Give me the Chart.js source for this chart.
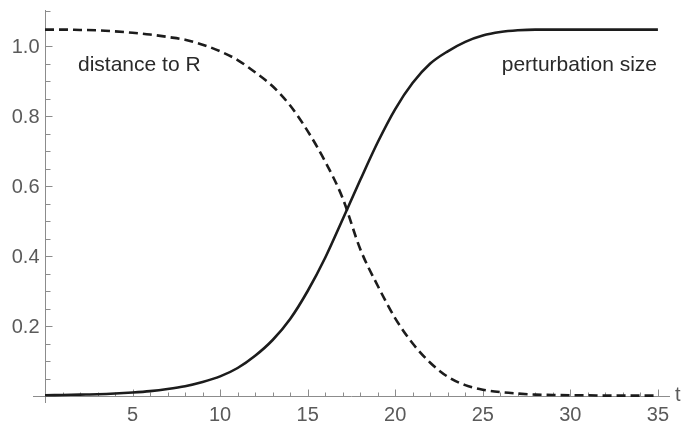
<!DOCTYPE html>
<html>
<head>
<meta charset="utf-8">
<title>Perturbation size and distance to R</title>
<script src="https://cdn.jsdelivr.net/npm/chart.js@4.4.1/dist/chart.umd.min.js"></script>
<style>
  html, body { margin: 0; padding: 0; background: #fff; }
  #wrap { width: 686px; height: 424px; }
</style>
</head>
<body>
<div id="wrap"><canvas id="curves" width="686" height="424"></canvas></div>
<script>
// sampled at integer t
const tValues = [0, 1, 2, 3, 4, 5, 6, 7, 8, 9, 10, 11, 12, 13, 14, 15, 16, 17,
  18, 19, 20, 21, 22, 23, 24, 25, 26, 27, 28, 29, 30, 31, 32, 33, 34, 35];

const perturbationSize = [0.002, 0.003, 0.004, 0.005, 0.007, 0.010, 0.014, 0.020,
  0.028, 0.040, 0.056, 0.080, 0.115, 0.160, 0.220, 0.300, 0.395, 0.505,
  0.617, 0.725, 0.820, 0.895, 0.950, 0.985, 1.012, 1.030, 1.040, 1.045,
  1.047, 1.047, 1.047, 1.047, 1.047, 1.047, 1.047, 1.047];

const distanceToR = [1.047, 1.047, 1.046, 1.045, 1.042, 1.038, 1.033, 1.026,
  1.018, 1.004, 0.985, 0.960, 0.925, 0.885, 0.830, 0.757, 0.670, 0.565,
  0.420, 0.315, 0.222, 0.150, 0.095, 0.055, 0.031, 0.018, 0.011, 0.007,
  0.004, 0.003, 0.002, 0.002, 0.001, 0.001, 0.001, 0.001];

const xMajorTicks = [5, 10, 15, 20, 25, 30, 35];
const xTickLabels = ['5', '10', '15', '20', '25', '30', '35'];
const yMajorTicks = [0.2, 0.4, 0.6, 0.8, 1.0];
const yTickLabels = ['0.2', '0.4', '0.6', '0.8', '1.0'];

const AXIS_COLOR = '#8c8c8c';
const LABEL_COLOR = '#5a5a5a';
const CURVE_COLOR = '#1c1c1c';
const FONT = '"Liberation Sans", Arial, Helvetica, sans-serif';

const toPoints = (ys) => ys.map((y, i) => ({ x: tValues[i], y: y }));

// Mathematica-style axes crossing at the origin, ticks pointing inward
const originAxes = {
  id: 'originAxes',
  beforeDatasetsDraw(chart) {
    const { ctx, chartArea, scales: { x, y } } = chart;
    const x0 = Math.round(x.getPixelForValue(0)) + 0.5;
    const y0 = Math.round(y.getPixelForValue(0)) + 0.5;

    ctx.save();
    ctx.strokeStyle = AXIS_COLOR;
    ctx.lineWidth = 1;

    ctx.beginPath();
    ctx.moveTo(chartArea.left, y0);
    ctx.lineTo(chartArea.right, y0);
    ctx.moveTo(x0, chartArea.bottom);
    ctx.lineTo(x0, chartArea.top);

    // x ticks: minor every 1, major every 5
    for (let t = 1; t <= 35; t++) {
      const px = Math.round(x.getPixelForValue(t)) + 0.5;
      const len = t % 5 === 0 ? 7 : 4;
      ctx.moveTo(px, y0);
      ctx.lineTo(px, y0 - len);
    }
    // y ticks: minor every 0.05, major every 0.2
    for (let k = 1; k <= 22; k++) {
      const py = Math.round(y.getPixelForValue(k * 0.05)) + 0.5;
      const len = k % 4 === 0 ? 7 : 5;
      ctx.moveTo(x0, py);
      ctx.lineTo(x0 + len, py);
    }
    ctx.stroke();

    ctx.fillStyle = LABEL_COLOR;
    ctx.font = '20px ' + FONT;
    ctx.textAlign = 'center';
    ctx.textBaseline = 'middle';
    xMajorTicks.forEach((t, i) => {
      ctx.fillText(xTickLabels[i], x.getPixelForValue(t), y0 + 19);
    });
    ctx.textAlign = 'right';
    yMajorTicks.forEach((v, i) => {
      ctx.fillText(yTickLabels[i], x0 - 6, y.getPixelForValue(v) + 1);
    });

    ctx.textAlign = 'left';
    ctx.fillText('t', chartArea.right + 5, y0 - 1);
    ctx.restore();
  },
  afterDatasetsDraw(chart) {
    const { ctx, chartArea } = chart;
    ctx.save();
    ctx.fillStyle = '#2a2a2a';
    ctx.font = '21px ' + FONT;
    ctx.textBaseline = 'alphabetic';
    ctx.textAlign = 'left';
    ctx.fillText('distance to R', 78, 71);
    ctx.textAlign = 'right';
    ctx.fillText('perturbation size', 657, 71);
    ctx.restore();
  }
};

new Chart(document.getElementById('curves'), {
  type: 'line',
  data: {
    datasets: [
      {
        label: 'perturbation size',
        data: toPoints(perturbationSize),
        borderColor: CURVE_COLOR,
        borderWidth: 2.6,
        pointRadius: 0,
        cubicInterpolationMode: 'monotone',
        fill: false
      },
      {
        label: 'distance to R',
        data: toPoints(distanceToR),
        borderColor: CURVE_COLOR,
        borderWidth: 2.6,
        borderDash: [9, 5],
        pointRadius: 0,
        cubicInterpolationMode: 'monotone',
        fill: false
      }
    ]
  },
  options: {
    responsive: false,
    animation: false,
    devicePixelRatio: 1,
    layout: { padding: { left: 33, right: 16, top: 10, bottom: 21 } },
    plugins: {
      legend: { display: false },
      tooltip: { enabled: false }
    },
    scales: {
      x: { type: 'linear', min: -0.685, max: 35.69, display: false },
      y: { type: 'linear', min: -0.02, max: 1.103, display: false }
    }
  },
  plugins: [originAxes]
});
</script>
</body>
</html>
